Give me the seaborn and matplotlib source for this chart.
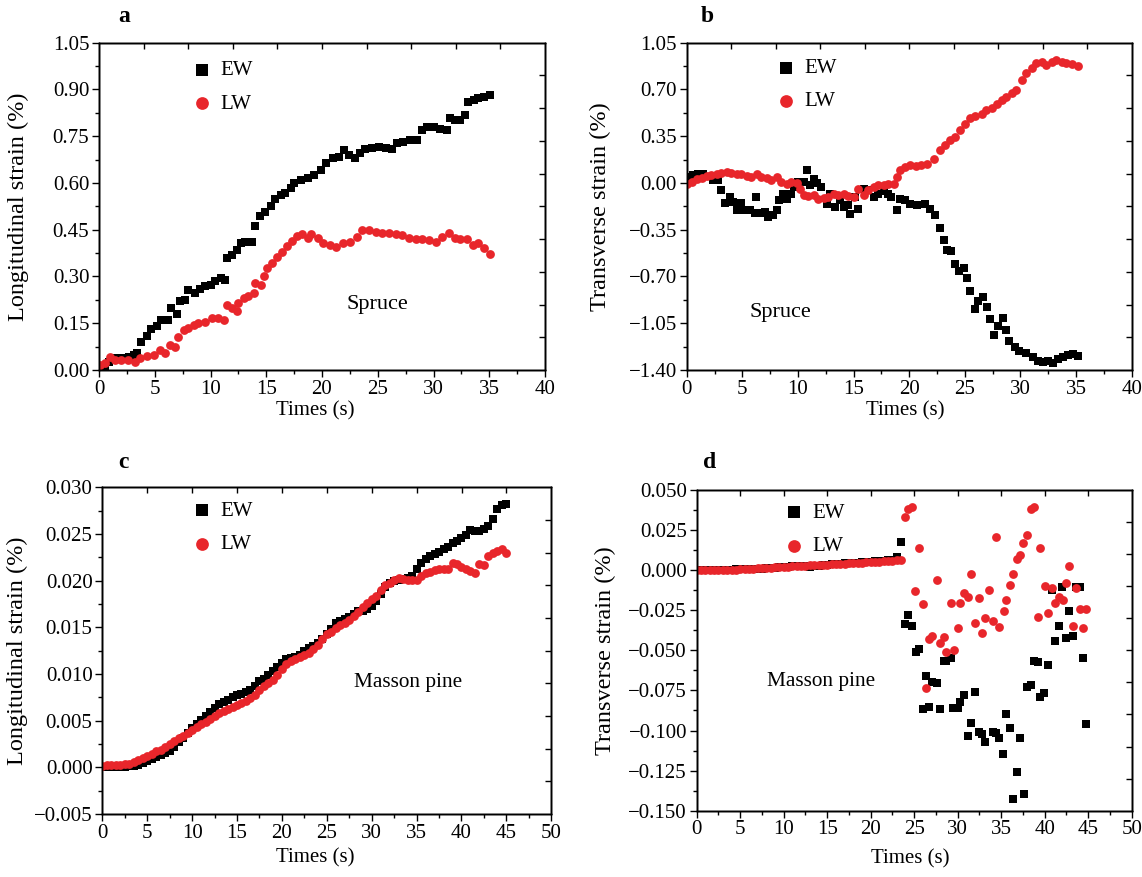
import numpy as np
import pandas as pd
import matplotlib
matplotlib.use('Agg')
import matplotlib.pyplot as plt
from matplotlib.ticker import MultipleLocator, FuncFormatter
import seaborn as sns

# ---- panel a : spruce, longitudinal strain (%) ----
t_ew_a = [0.2, 0.5, 0.9, 1.4, 1.8, 2.2, 2.7, 3.1, 3.4, 3.8, 4.3, 4.7, 5.2, 5.6, 6.2, 6.5, 7.0, 7.3, 7.7, 8.0,
          8.6, 9.1, 9.5, 10.0, 10.4, 10.9, 11.3, 11.5, 11.9, 12.4, 12.7, 13.1, 13.7, 13.95, 14.4, 14.9, 15.4, 15.8,
          16.3, 16.7, 17.2, 17.5, 18.1, 18.7, 19.3, 19.9, 20.4, 21.0, 21.5, 22.0, 22.4, 23.0, 23.4, 23.9, 24.5,
          25.1, 25.7, 26.3, 26.7, 27.3, 27.9, 28.5, 29.0, 29.4, 30.0, 30.6, 31.2, 31.5, 31.9, 32.4, 32.8, 33.1,
          33.6, 34.0, 34.5, 35.1]
v_ew_a = [0.005, 0.01, 0.025, 0.037, 0.038, 0.04, 0.042, 0.048, 0.054, 0.09, 0.11, 0.13, 0.14, 0.16, 0.16, 0.20,
          0.18, 0.22, 0.225, 0.257, 0.247, 0.26, 0.268, 0.273, 0.284, 0.295, 0.29, 0.36, 0.37, 0.386, 0.407, 0.41,
          0.41, 0.463, 0.493, 0.506, 0.525, 0.547, 0.563, 0.568, 0.584, 0.600, 0.611, 0.616, 0.627, 0.643, 0.665,
          0.679, 0.684, 0.706, 0.69, 0.679, 0.695, 0.708, 0.711, 0.714, 0.711, 0.709, 0.727, 0.733, 0.738, 0.738,
          0.770, 0.778, 0.778, 0.773, 0.770, 0.807, 0.802, 0.802, 0.818, 0.861, 0.866, 0.872, 0.877, 0.882]
t_lw_a = [0.1, 0.5, 1.0, 1.4, 2.0, 2.6, 3.2, 3.7, 4.3, 4.9, 5.5, 5.9, 6.4, 6.8, 7.1, 7.6, 8.0, 8.5, 8.9, 9.5,
          10.1, 10.7, 11.2, 11.5, 11.9, 12.4, 12.5, 13.0, 13.4, 13.9, 14.0, 14.5, 14.8, 15.1, 15.5, 16.0, 16.4,
          16.9, 17.3, 17.8, 18.2, 18.7, 19.0, 19.6, 20.1, 20.7, 21.3, 21.9, 22.5, 23.1, 23.6, 24.2, 24.8, 25.4,
          26.0, 26.6, 27.2, 27.8, 28.4, 29.0, 29.6, 30.2, 30.8, 31.4, 31.9, 32.4, 33.0, 33.5, 34.0, 34.5, 35.1]
v_lw_a = [0.016, 0.021, 0.043, 0.032, 0.032, 0.032, 0.027, 0.038, 0.045, 0.048, 0.064, 0.054, 0.080, 0.075,
          0.107, 0.129, 0.134, 0.145, 0.150, 0.155, 0.166, 0.166, 0.161, 0.209, 0.198, 0.188, 0.214, 0.230, 0.236,
          0.247, 0.279, 0.273, 0.300, 0.327, 0.343, 0.364, 0.380, 0.397, 0.413, 0.429, 0.437, 0.423, 0.437, 0.423,
          0.407, 0.401, 0.393, 0.406, 0.411, 0.427, 0.449, 0.449, 0.444, 0.440, 0.440, 0.436, 0.433, 0.425, 0.419,
          0.419, 0.417, 0.412, 0.427, 0.438, 0.422, 0.419, 0.419, 0.401, 0.406, 0.390, 0.372]

# ---- panel b : spruce, transverse strain (%) ----
t_ew_b = [0.15, 0.6, 1.0, 1.5, 2.4, 2.8, 3.1, 3.4, 3.9, 4.2, 4.5, 4.9, 5.2, 5.7, 6.1, 6.2, 6.6, 7.0, 7.3, 7.8,
          8.1, 8.3, 8.7, 9.0, 9.4, 9.6, 10.0, 10.5, 10.8, 11.1, 11.4, 11.7, 12.1, 12.6, 12.9, 13.3, 13.8, 14.1,
          14.5, 14.7, 15.1, 15.4, 15.9, 16.3, 16.8, 17.2, 17.7, 18.1, 18.4, 18.9, 19.2, 19.6, 20.1, 20.7, 21.4,
          21.9, 22.3, 22.8, 23.1, 23.4, 23.8, 24.1, 24.5, 24.9, 25.2, 25.5, 25.9, 26.2, 26.6, 27.0, 27.3, 27.6,
          28.0, 28.4, 28.7, 29.0, 29.5, 29.9, 30.5, 31.1, 31.6, 32.0, 32.5, 32.9, 33.4, 33.8, 34.3, 34.7, 35.2]
v_ew_b = [0.045, 0.058, 0.065, 0.065, 0.025, 0.02, -0.05, -0.15, -0.105, -0.143, -0.2, -0.15, -0.205, -0.2,
          -0.225, -0.105, -0.225, -0.218, -0.255, -0.243, -0.205, -0.13, -0.08, -0.118, -0.08, -0.03, 0.008,
          0.008, 0.095, -0.018, 0.033, 0.0, -0.03, -0.155, -0.08, -0.18, -0.13, -0.18, -0.168, -0.23, -0.105,
          -0.198, -0.043, -0.055, -0.105, -0.08, -0.06, -0.08, -0.105, -0.205, -0.118, -0.13, -0.155, -0.168,
          -0.16, -0.193, -0.243, -0.335, -0.43, -0.505, -0.51, -0.605, -0.66, -0.635, -0.71, -0.81, -0.943,
          -0.88, -0.85, -0.93, -1.018, -1.135, -1.068, -1.01, -1.1, -1.18, -1.23, -1.255, -1.275, -1.3, -1.335,
          -1.343, -1.33, -1.35, -1.318, -1.305, -1.285, -1.28, -1.293]
t_lw_b = [0.06, 0.45, 0.9, 1.35, 1.8, 2.2, 2.7, 3.1, 3.6, 4.0, 4.5, 4.9, 5.4, 5.8, 6.3, 6.7, 7.2, 7.6, 8.1, 8.5,
          9.0, 9.4, 9.9, 10.2, 10.5, 10.9, 11.4, 11.8, 12.3, 12.7, 13.2, 13.6, 14.1, 14.5, 15.0, 15.4, 15.9, 16.3,
          16.8, 17.2, 17.7, 18.1, 18.6, 18.9, 19.2, 19.6, 20.1, 20.6, 21.1, 21.6, 22.2, 22.8, 23.2, 23.7, 24.1,
          24.6, 25.0, 25.5, 25.9, 26.5, 26.9, 27.4, 27.9, 28.3, 28.7, 29.2, 29.6, 30.1, 30.5, 31.0, 31.4, 31.9,
          32.3, 32.8, 33.2, 33.7, 34.1, 34.6, 35.2]
v_lw_b = [-0.01, 0.008, 0.033, 0.04, 0.05, 0.058, 0.065, 0.075, 0.083, 0.075, 0.07, 0.065, 0.05, 0.045, 0.07,
          0.045, 0.04, 0.025, 0.045, 0.008, -0.01, 0.008, 0.0, -0.043, -0.093, -0.1, -0.093, -0.118, -0.11, -0.105,
          -0.08, -0.093, -0.08, -0.1, -0.105, -0.043, -0.093, -0.055, -0.03, -0.018, -0.018, -0.005, -0.01, 0.045,
          0.095, 0.12, 0.133, 0.13, 0.135, 0.145, 0.183, 0.245, 0.283, 0.32, 0.345, 0.395, 0.445, 0.483, 0.5,
          0.52, 0.545, 0.558, 0.59, 0.62, 0.645, 0.67, 0.695, 0.77, 0.82, 0.858, 0.895, 0.908, 0.883, 0.908, 0.92,
          0.908, 0.9, 0.89, 0.875]

# ---- panel c : masson pine, longitudinal strain (%) ----
t_c = [0.0, 0.5, 1.0, 1.5, 2.0, 2.5, 3.0, 3.5, 4.0, 4.5, 5.0, 5.5, 6.0, 6.5, 7.0, 7.5, 8.0, 8.5, 9.0, 9.5,
       10.0, 10.5, 11.0, 11.5, 12.0, 12.5, 13.0, 13.5, 14.0, 14.5, 15.0, 15.5, 16.0, 16.5, 17.0, 17.5, 18.0,
       18.5, 19.0, 19.5, 20.0, 20.5, 21.0, 21.5, 22.0, 22.5, 23.0, 23.5, 24.0, 24.5, 25.0, 25.5, 26.0, 26.5,
       27.0, 27.5, 28.0, 28.5, 29.0, 29.5, 30.0, 30.5, 31.0, 31.5, 32.0, 32.5, 33.0, 33.5, 34.0, 34.5, 35.0,
       35.5, 36.0, 36.5, 37.0, 37.5, 38.0, 38.5, 39.0, 39.5, 40.0, 40.5, 41.0, 41.5, 42.0, 42.5, 43.0, 43.5,
       44.0, 44.5, 45.0]
v_ew_c = [0.0000, 0.0000, 0.0000, 0.0000, 0.0000, 0.0000, 0.0001, 0.0001, 0.0003, 0.0005, 0.0007, 0.0009,
          0.0011, 0.0013, 0.0015, 0.0018, 0.0022, 0.0027, 0.0031, 0.0037, 0.0042, 0.0046, 0.0051, 0.0055, 0.0059,
          0.0064, 0.0068, 0.0070, 0.0072, 0.0075, 0.0077, 0.0079, 0.0081, 0.0083, 0.0087, 0.0092, 0.0095, 0.0099,
          0.0103, 0.0108, 0.0112, 0.0116, 0.0117, 0.0118, 0.0120, 0.0125, 0.0128, 0.0130, 0.0133, 0.0138, 0.0143,
          0.0148, 0.0155, 0.0157, 0.0159, 0.0161, 0.0164, 0.0167, 0.0168, 0.0170, 0.0173, 0.0178, 0.0186, 0.0193,
          0.0198, 0.0200, 0.0201, 0.0202, 0.0203, 0.0205, 0.0212, 0.0219, 0.0223, 0.0226, 0.0229, 0.0231, 0.0234,
          0.0236, 0.0240, 0.0243, 0.0246, 0.0249, 0.0254, 0.0253, 0.0253, 0.0255, 0.0259, 0.0266, 0.0277, 0.0281,
          0.0282]
v_lw_c = [0.0001, 0.0002, 0.0002, 0.0003, 0.0003, 0.0004, 0.0004, 0.0006, 0.0008, 0.0010, 0.0012, 0.0014,
          0.0017, 0.0019, 0.0022, 0.0025, 0.0028, 0.0031, 0.0034, 0.0037, 0.0040, 0.0043, 0.0046, 0.0049, 0.0052,
          0.0055, 0.0058, 0.0060, 0.0063, 0.0065, 0.0067, 0.0069, 0.0071, 0.0074, 0.0078, 0.0083, 0.0087, 0.0090,
          0.0094, 0.0099, 0.0105, 0.0111, 0.0114, 0.0116, 0.0118, 0.0120, 0.0123, 0.0127, 0.0131, 0.0137, 0.0143,
          0.0145, 0.0149, 0.0152, 0.0155, 0.0158, 0.0162, 0.0166, 0.0172, 0.0176, 0.0180, 0.0184, 0.0190, 0.0195,
          0.0198, 0.0201, 0.0203, 0.0202, 0.0201, 0.0201, 0.0201, 0.0205, 0.0208, 0.0209, 0.0211, 0.0213, 0.0212,
          0.0212, 0.0219, 0.0218, 0.0215, 0.0213, 0.0210, 0.0208, 0.0218, 0.0217, 0.0226, 0.0230, 0.0232, 0.0234,
          0.0230]

# ---- panel d : masson pine, transverse strain (%) ----
t_ew_d = [0.0, 0.5, 1.0, 1.5, 2.0, 2.5, 3.0, 3.5, 4.0, 4.5, 5.0, 5.5, 6.0, 6.5, 7.0, 7.5, 8.0, 8.5, 9.0, 9.5,
          10.0, 10.5, 11.0, 11.5, 12.0, 12.5, 13.0, 13.5, 14.0, 14.5, 15.0, 15.5, 16.0, 16.5, 17.0, 17.5, 18.0,
          18.5, 19.0, 19.5, 20.0, 20.5, 21.0, 21.5, 22.0, 22.5, 23.0, 23.5,
          23.9, 24.3, 24.8, 25.2, 25.6, 26.0, 26.4, 26.7, 27.1, 27.6, 28.0, 28.4, 28.7, 29.2, 29.5, 30.0, 30.3,
          30.7, 31.2, 31.5, 32.0, 32.4, 32.8, 33.1, 34.0, 34.4, 34.8, 35.2, 35.6, 36.0, 36.4, 36.8, 37.2, 37.6,
          38.0, 38.4, 38.8, 39.2, 39.5, 39.9, 40.4, 40.8, 41.2, 41.6, 42.0, 42.4, 42.8, 43.2, 43.6, 44.1, 44.4,
          44.8]
v_ew_d = [0.0000, 0.0000, 0.0000, 0.0001, 0.0002, 0.0003, 0.0003, 0.0003, 0.0004, 0.0005, 0.0006, 0.0008,
          0.0009, 0.0010, 0.0008, 0.0010, 0.0012, 0.0014, 0.0015, 0.0017, 0.0020, 0.0022, 0.0025, 0.0027, 0.0025,
          0.0024, 0.0022, 0.0025, 0.0029, 0.0032, 0.0034, 0.0036, 0.0038, 0.0041, 0.0044, 0.0045, 0.0045, 0.0047,
          0.0050, 0.0052, 0.0054, 0.0055, 0.0055, 0.0058, 0.0061, 0.0065, 0.0084, 0.0178,
          -0.0336, -0.028, -0.0348, -0.0508, -0.0491, -0.0868, -0.066, -0.0851, -0.0695, -0.0706, -0.0868,
          -0.0566, -0.0566, -0.0546, -0.0862, -0.0862, -0.082, -0.0779, -0.1034, -0.0955, -0.0758, -0.1007,
          -0.1021, -0.1069, -0.1007, -0.1017, -0.1049, -0.1146, -0.0899, -0.0982, -0.1429, -0.1257, -0.1049,
          -0.1396, -0.0731, -0.0716, -0.0566, -0.057, -0.0789, -0.0768, -0.0591, -0.0124, -0.044, -0.0346,
          -0.0103, -0.0425, -0.0252, -0.0408, -0.0107, -0.0107, -0.0546, -0.0959]
t_lw_d = [0.0, 0.5, 1.0, 1.5, 2.0, 2.5, 3.0, 3.5, 4.0, 4.5, 5.0, 5.5, 6.0, 6.5, 7.0, 7.5, 8.0, 8.5, 9.0, 9.5,
          10.0, 10.5, 11.0, 11.5, 12.0, 12.5, 13.0, 13.5, 14.0, 14.5, 15.0, 15.5, 16.0, 16.5, 17.0, 17.5, 18.0,
          18.5, 19.0, 19.5, 20.0, 20.5, 21.0, 21.5, 22.0, 22.5, 23.0, 23.5,
          23.9, 24.3, 24.8, 25.1, 25.6, 26.0, 26.4, 26.7, 27.1, 27.6, 28.0, 28.4, 28.7, 29.2, 29.6, 30.0, 30.3,
          30.7, 31.2, 31.5, 32.0, 32.4, 32.8, 33.1, 33.6, 34.0, 34.4, 34.8, 35.3, 35.6, 36.0, 36.4, 36.8, 37.2,
          37.5, 38.0, 38.4, 38.8, 39.2, 39.5, 40.0, 40.4, 40.8, 41.2, 41.6, 42.1, 42.4, 42.8, 43.2, 43.6, 44.0,
          44.4, 44.8]
v_lw_d = [0.0000, -0.0001, -0.0001, 0.0000, 0.0000, 0.0001, 0.0001, 0.0002, 0.0003, 0.0004, 0.0005, 0.0006,
          0.0008, 0.0010, 0.0012, 0.0013, 0.0014, 0.0016, 0.0017, 0.0018, 0.0020, 0.0021, 0.0023, 0.0025, 0.0027,
          0.0029, 0.0030, 0.0032, 0.0033, 0.0034, 0.0035, 0.0037, 0.0039, 0.0040, 0.0041, 0.0042, 0.0043, 0.0045,
          0.0046, 0.0048, 0.0050, 0.0052, 0.0054, 0.0055, 0.0057, 0.0059, 0.0062, 0.0063,
          0.0334, 0.038, 0.0396, -0.013, 0.014, -0.0211, -0.0737, -0.0431, -0.0408, -0.0061, -0.0456, -0.0414,
          -0.0508, -0.0207, -0.0498, -0.0358, -0.0203, -0.0144, -0.0169, -0.0026, -0.0327, -0.0175, -0.039,
          -0.03, -0.0124, -0.0315, 0.0205, -0.0352, -0.0252, -0.0186, -0.0093, -0.0026, 0.0068, 0.0094, 0.0171,
          0.0219, 0.038, 0.0396, -0.0294, 0.0136, -0.0099, -0.0269, -0.0113, -0.0203, -0.0169, -0.0186, -0.0078,
          0.0026, -0.0348, -0.0113, -0.0244, -0.0362, -0.0244]

sns.set_style('ticks', {'axes.edgecolor': 'black', 'xtick.color': 'black', 'ytick.color': 'black',
                        'text.color': 'black', 'axes.labelcolor': 'black'})
plt.rcParams['font.family'] = ['Liberation Serif', 'DejaVu Serif']
plt.rcParams['axes.linewidth'] = 1.0

red = '#e8262b'

panels = [
    dict(letter='a', letter_xy=(124, 17), rect=(99, 42.7, 545, 370),
         t_ew=t_ew_a, v_ew=v_ew_a, t_lw=t_lw_a, v_lw=v_lw_a,
         xmax=40, ylim=(0, 1.05), ystep=0.15, dec=2, ylabel='Longitudinal strain (%)',
         note='Spruce', note_at=(25.0, 0.209), note_size=16, leg=(0.212, 0.945),
         ylab=(-0.157, 0.5), xlab=(0.484, -0.095)),
    dict(letter='b', letter_xy=(707, 17), rect=(686.7, 42.7, 1131.7, 370),
         t_ew=t_ew_b, v_ew=v_ew_b, t_lw=t_lw_b, v_lw=v_lw_b,
         xmax=40, ylim=(-1.40, 1.05), ystep=0.35, dec=2, ylabel='Transverse strain (%)',
         note='Spruce', note_at=(8.43, -0.973), note_size=16, leg=(0.204, 0.952),
         ylab=(-0.170, 0.5), xlab=(0.49, -0.095)),
    dict(letter='c', letter_xy=(123, 463), rect=(102.3, 487.3, 551.3, 814),
         t_ew=t_c, v_ew=v_ew_c, t_lw=t_c, v_lw=v_lw_c,
         xmax=50, ylim=(-0.005, 0.030), ystep=0.005, dec=3, ylabel='Longitudinal strain (%)',
         note='Masson pine', note_at=(34.1, 0.0091), note_size=15.3, leg=(0.204, 0.957),
         ylab=(-0.165, 0.5), xlab=(0.474, -0.104)),
    dict(letter='d', letter_xy=(710, 463), rect=(696.7, 490, 1131.7, 810.7),
         t_ew=t_ew_d, v_ew=v_ew_d, t_lw=t_lw_d, v_lw=v_lw_d,
         xmax=50, ylim=(-0.150, 0.050), ystep=0.025, dec=3, ylabel='Transverse strain (%)',
         note='Masson pine', note_at=(14.3, -0.0697), note_size=15.3, leg=(0.205, 0.959),
         ylab=(-0.186, 0.5), xlab=(0.49, -0.119)),
]

W, H = 1142, 877
fig = plt.figure(figsize=(W / 100, H / 100), dpi=100)

for p in panels:
    x0, y0, x1, y1 = p['rect']
    ax = fig.add_axes([x0 / W, 1 - y1 / H, (x1 - x0) / W, (y1 - y0) / H])

    sns.scatterplot(x=p['t_ew'], y=p['v_ew'], color='black', marker='s', s=30, linewidth=0,
                    label='EW', ax=ax, zorder=3)
    sns.scatterplot(x=p['t_lw'], y=p['v_lw'], color=red, marker='o', s=40, linewidth=0,
                    label='LW', ax=ax, zorder=4)

    ax.set_xlim(0, p['xmax'])
    ax.set_ylim(*p['ylim'])
    ax.xaxis.set_major_locator(MultipleLocator(5))
    ax.xaxis.set_minor_locator(MultipleLocator(2.5))
    ax.yaxis.set_major_locator(MultipleLocator(p['ystep']))
    ax.yaxis.set_minor_locator(MultipleLocator(p['ystep'] / 2))
    d = p['dec']
    ax.yaxis.set_major_formatter(FuncFormatter(lambda y, _, d=d: f'{y:.{d}f}'.replace('-', '\u2212')))
    ax.tick_params(which='major', direction='out', length=5, width=1, labelsize=15, pad=2)
    ax.tick_params(which='minor', direction='out', length=3, width=1)

    ax.set_xlabel('Times (s)', fontsize=15)
    ax.set_ylabel(p['ylabel'], fontsize=17.5)
    ax.yaxis.set_label_coords(*p['ylab'])
    ax.xaxis.set_label_coords(*p['xlab'])

    ax.text(p['note_at'][0], p['note_at'][1], p['note'], fontsize=p['note_size'], ha='center', va='center')

    ax.legend(loc='upper left', bbox_to_anchor=p['leg'], frameon=False, fontsize=15,
              handlelength=0.8, handletextpad=0.48, labelspacing=0.66, borderpad=0,
              borderaxespad=0, markerscale=1.45)

    # top and right frame carry their own inward ticks (10 equal steps)
    top = ax.twiny()
    top.set_xlim(0, 10)
    top.set_xticks(range(1, 10))
    top.tick_params(axis='x', direction='in', length=4, width=1, labeltop=False)
    right = ax.twinx()
    right.set_ylim(0, 10)
    right.set_yticks(range(1, 10))
    right.tick_params(axis='y', direction='in', length=4, width=1, labelright=False)

    fig.text(p['letter_xy'][0] / W, 1 - p['letter_xy'][1] / H, p['letter'], fontsize=17,
             fontweight='bold', ha='center', va='center')

fig.savefig('out.png', dpi=100)
